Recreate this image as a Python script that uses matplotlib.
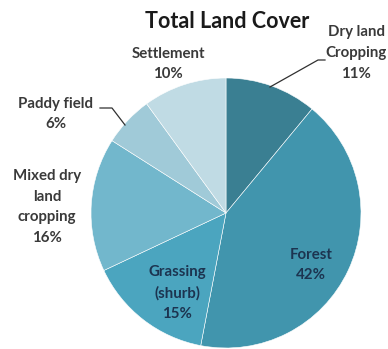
import matplotlib.pyplot as plt

categories = ["Dry land\nCropping", "Forest", "Grassing\n(shurb)", "Mixed dry\nland\ncropping",
              "Paddy field", "Settlement"]
shares = [11, 42, 15, 16, 6, 10]
colors = ["#3a7f92", "#4195ad", "#4ba5bf", "#72b7cc", "#a0cad8", "#c0dbe4"]

plt.rcParams['font.family'] = ['Lato', 'DejaVu Sans']

fig = plt.figure(figsize=(3.88, 3.49), dpi=100)
ax = fig.add_axes([0, 0, 1, 1])
ax.pie(shares, colors=colors, startangle=90, counterclock=False,
       center=(226, 136), radius=135,
       wedgeprops=dict(edgecolor='white', linewidth=0.4))
ax.set_xlim(0, 388)
ax.set_ylim(0, 349)
ax.set_aspect('equal')
ax.axis('off')

labels = [f"{c}\n{s}%" for c, s in zip(categories, shares)]
outside = '#3a3a3a'
inside = '#1c3450'
# label positions (figure pixel coords, y up)
pos = [(356, 296), (311, 84), (177, 56), (47, 142), (56, 235), (168, 285)]
tcol = [outside, inside, inside, outside, outside, outside]
for lab, (x, y), c in zip(labels, pos, tcol):
    ax.text(x, y, lab, ha='center', va='center', fontsize=10.8, fontweight='bold',
            color=c, linespacing=1.6)

# leader lines
ax.plot([270, 318, 325], [262, 289, 289], color='#303030', lw=0.9)
ax.plot([100, 112, 125], [241, 241, 224], color='#303030', lw=0.9)

ax.text(227, 327, "Total Land Cover", ha='center', va='center', fontsize=15.5,
        fontweight='bold', color='#1a1a1a')

fig.savefig("out.png", dpi=100)
